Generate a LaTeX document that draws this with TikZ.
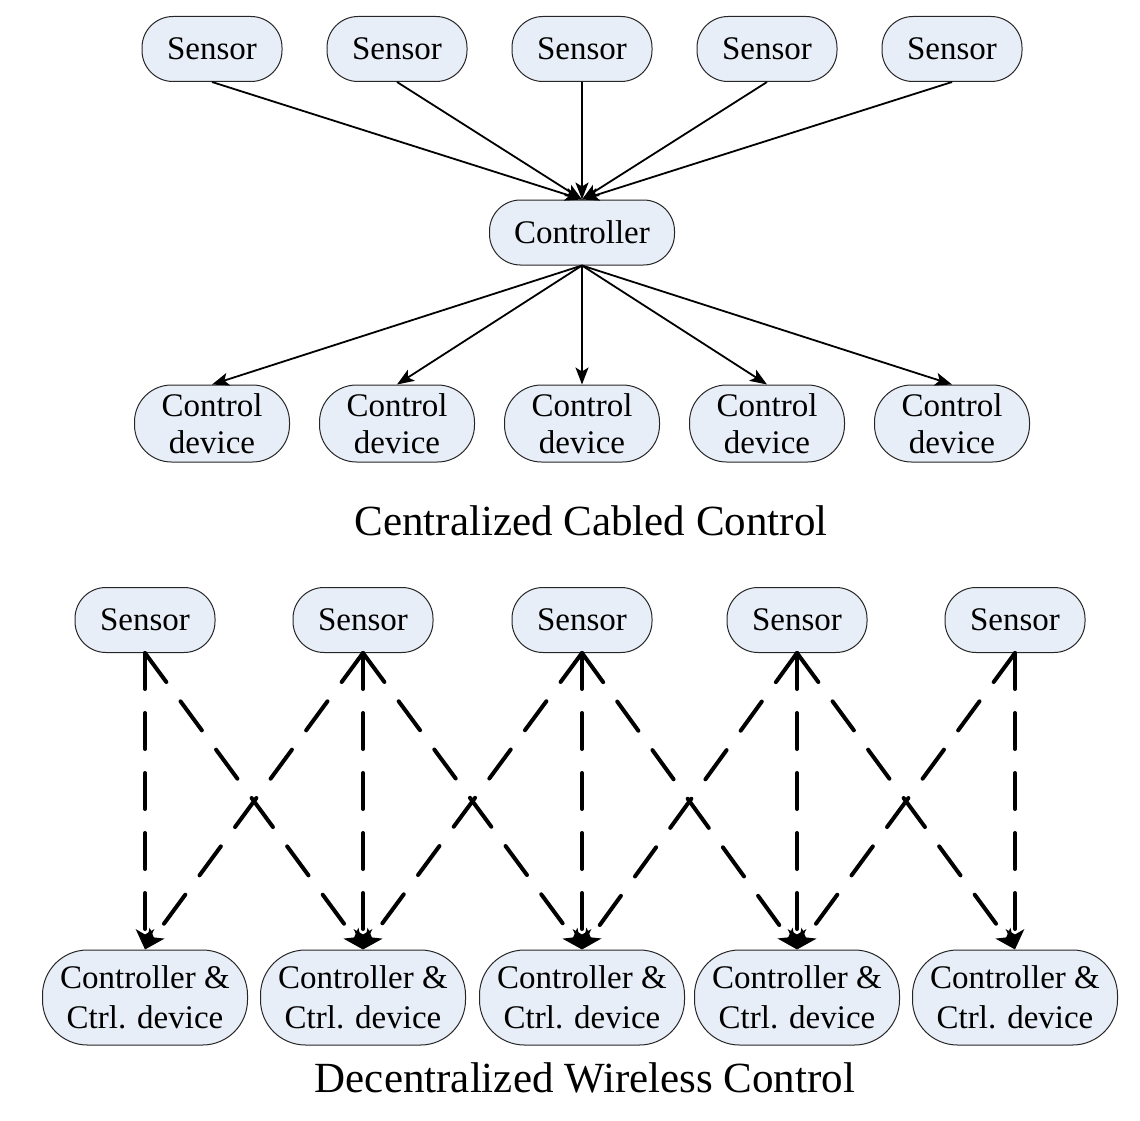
\documentclass[tikz,border=0pt]{standalone}
\usepackage{fontspec}
\setmainfont{Liberation Serif}
\usetikzlibrary{arrows.meta}
\definecolor{boxfill}{RGB}{232,238,247}
\begin{document}
\begin{tikzpicture}[x=1pt,y=-1pt,
  box/.style={draw=black!85, line width=1pt, fill=boxfill, inner sep=0pt,
    align=center, font=\fontsize{33}{37}\selectfont},
  sensorbox/.style={box, minimum width=140pt, minimum height=65pt, rounded corners=31pt},
  ctrlbox/.style={box, minimum width=185pt, minimum height=65pt, rounded corners=31pt},
  devbox/.style={box, minimum width=155pt, minimum height=77pt, rounded corners=37pt},
  combobox/.style={box, minimum width=205pt, minimum height=95pt, rounded corners=45pt,
    font=\fontsize{33}{40}\selectfont},
  cable/.style={line width=1.8pt, -{Stealth[length=17pt,width=13pt,inset=4pt]}},
  radio/.style={line width=4pt, line cap=round, dash pattern=on 36pt off 24pt,
    -{Stealth[length=20pt,width=18pt,inset=5pt]}},
  caption/.style={font=\fontsize{43}{50}\selectfont, anchor=base}
]
\useasboundingbox (0,0) rectangle (1140,1121);

% ---- centralized, cabled ----
\foreach \i/\x in {1/212,2/397,3/582,4/767,5/952}{
  \node[sensorbox] (s\i) at (\x,49) {Sensor};
  \node[devbox] (d\i) at (\x,423.5) {Control\\device};
}
\node[ctrlbox] (c) at (582,232.5) {Controller};
\foreach \i in {1,...,5}{
  \draw[cable] (s\i.south) -- (c.north);
  \draw[cable] (c.south) -- (d\i.north);
}
\node[caption] (cap1) at (591,535) {Centralized Cabled Control};

% ---- decentralized, wireless ----
\foreach \i/\x in {1/145,2/363,3/582,4/797,5/1015}{
  \node[sensorbox] (w\i) at (\x,620) {Sensor};
  \node[combobox] (k\i) at (\x,997.5) {Controller \&\\Ctrl. device};
}
\foreach \i in {1,...,5}{
  \draw[radio] (w\i.south) -- (k\i.north);
}
\foreach \i/\j in {1/2,2/3,3/4,4/5}{
  \draw[radio] (w\i.south) -- (k\j.north);
  \draw[radio] (w\j.south) -- (k\i.north);
}
\node[caption] (cap2) at (585,1092) {Decentralized Wireless Control};
\end{tikzpicture}
\end{document}
